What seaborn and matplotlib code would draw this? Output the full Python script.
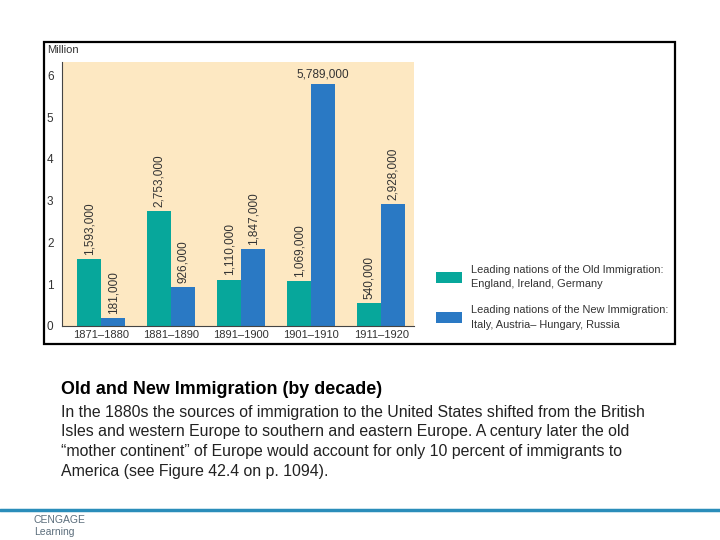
import numpy as np
import pandas as pd
import matplotlib
matplotlib.use('Agg')
import matplotlib.pyplot as plt
from matplotlib.patches import Rectangle
import seaborn as sns

# chart data (millions of immigrants)
decades = ['1871–1880', '1881–1890', '1891–1900', '1901–1910', '1911–1920']
old_immigration = [1.593, 2.753, 1.110, 1.069, 0.540]
new_immigration = [0.181, 0.926, 1.847, 5.789, 2.928]
old_labels = ['1,593,000', '2,753,000', '1,110,000', '1,069,000', '540,000']
new_labels = ['181,000', '926,000', '1,847,000', '5,789,000', '2,928,000']
series_names = ['Leading nations of the Old Immigration:\nEngland, Ireland, Germany',
                'Leading nations of the New Immigration:\nItaly, Austria– Hungary, Russia']
y_ticks = [0, 1, 2, 3, 4, 5, 6]

df = pd.DataFrame({
    'decade': decades * 2,
    'value': old_immigration + new_immigration,
    'group': [series_names[0]] * 5 + [series_names[1]] * 5,
})

sns.set_style('white')
plt.rcParams['font.family'] = ['Liberation Sans', 'DejaVu Sans']

teal = '#07A79B'
blue = '#2A79C4'
cream = '#FDE8C2'

fig = plt.figure(figsize=(7.2, 5.4), dpi=100)

# black frame round the chart
fig.patches.append(Rectangle((44 / 720, 1 - 344 / 540), (675 - 44) / 720, (344 - 42) / 540,
                             transform=fig.transFigure, fill=False, edgecolor='black', linewidth=1.6))

ax = fig.add_axes([62 / 720, 214 / 540, 352 / 720, 264 / 540])
ax.set_facecolor(cream)
sns.barplot(data=df, x='decade', y='value', hue='group', order=decades, hue_order=series_names,
            palette=[teal, blue], width=0.69, gap=0, saturation=1, linewidth=0, ax=ax, legend=True)
ax.set_xlim(-0.56, 4.47)
ax.set_ylim(0, 6.32)
ax.set_yticks(y_ticks)
ax.set_yticklabels([str(t) for t in y_ticks], fontsize=8.5, color='#333333')
ax.tick_params(axis='y', length=3.6, width=0.6, color='#555555', pad=2.5)
ax.tick_params(axis='x', length=0, pad=3, labelsize=8, labelcolor='#333333')
ax.set_xlabel('')
ax.set_ylabel('')
for side in ['top', 'right']:
    ax.spines[side].set_visible(False)
for side in ['left', 'bottom']:
    ax.spines[side].set_color('#444444')
    ax.spines[side].set_linewidth(0.8)

# value labels above each bar
labels = old_labels + new_labels
for bar, lab in zip(ax.patches, labels):
    cx = bar.get_x() + bar.get_width() / 2
    top = bar.get_height()
    if lab == '5,789,000':
        ax.text(cx, top + 0.1, lab, ha='center', va='bottom', fontsize=8.5, color='#333333')
    else:
        ax.text(cx, top + 0.1, lab, ha='center', va='bottom', rotation=90, fontsize=8.5, color='#333333')

fig.text(47 / 720, 1 - 50 / 540, 'Million', ha='left', va='center', fontsize=8, color='#333333')

handles, hlabels = ax.get_legend_handles_labels()
ax.get_legend().remove()
leg = fig.legend(handles, hlabels, loc='upper left', bbox_to_anchor=(426 / 720, 1 - 255 / 540),
                 frameon=False, fontsize=7.9, handlelength=2.4, handleheight=1.2, labelspacing=1.45,
                 handletextpad=0.8, labelcolor='#333333')
for t in leg.get_texts():
    t.set_linespacing(1.55)

# caption under the chart
fig.text(61 / 720, 1 - 390 / 540, 'Old and New Immigration (by decade)', ha='left', va='center',
         fontsize=12.9, fontweight='bold', color='black')
body = ['In the 1880s the sources of immigration to the United States shifted from the British',
        'Isles and western Europe to southern and eastern Europe. A century later the old',
        '“mother continent” of Europe would account for only 10 percent of immigrants to',
        'America (see Figure 42.4 on p. 1094).']
for i, line in enumerate(body):
    fig.text(61 / 720, 1 - (412 + 19.8 * i) / 540, line, ha='left', va='center', fontsize=11.4, color='#222222')

# footer rule and logo text
fig.add_artist(plt.Line2D([0, 1], [1 - 510 / 540] * 2, transform=fig.transFigure, color='#2A8DBA', linewidth=2.5))
fig.text(34 / 720, 1 - 520 / 540, 'CENGAGE', ha='left', va='center', fontsize=7.5, color='#5C6E7C')
fig.text(34 / 720, 1 - 532 / 540, 'Learning', ha='left', va='center', fontsize=7.5, color='#5C6E7C')

fig.savefig('out.png', dpi=100)
